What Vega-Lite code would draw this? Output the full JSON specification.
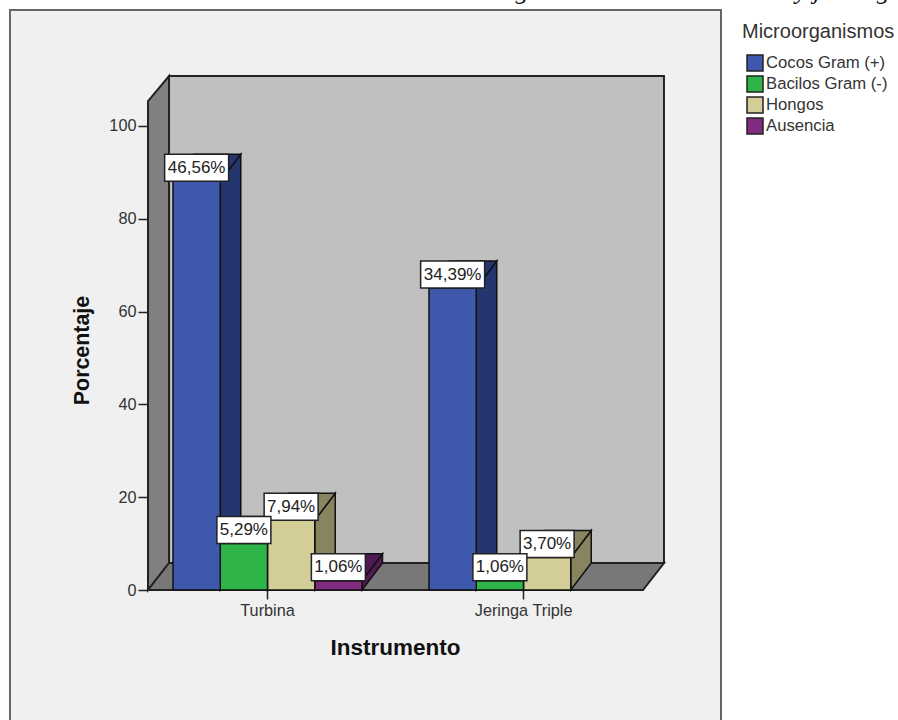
{
  "$schema": "https://vega.github.io/schema/vega-lite/v6.json",
  "autosize": "none",
  "padding": {"left": 10, "top": 10, "right": 177, "bottom": 0},
  "width": 711,
  "height": 712,
  "background": "white",
  "view": {"fill": "#f0f0f0", "stroke": "#666666", "strokeWidth": 2},
  "data": {"name": "tabla", "values": [
    {"instrumento": "Turbina", "microorganismo": "Ausencia", "porcentaje": 1.06},
    {"instrumento": "Turbina", "microorganismo": "Hongos", "porcentaje": 7.94},
    {"instrumento": "Turbina", "microorganismo": "Bacilos Gram (-)", "porcentaje": 5.29},
    {"instrumento": "Turbina", "microorganismo": "Cocos Gram (+)", "porcentaje": 46.56},
    {"instrumento": "Jeringa Triple", "microorganismo": "Hongos", "porcentaje": 3.70},
    {"instrumento": "Jeringa Triple", "microorganismo": "Bacilos Gram (-)", "porcentaje": 1.06},
    {"instrumento": "Jeringa Triple", "microorganismo": "Cocos Gram (+)", "porcentaje": 34.39}
  ]},
  "transform": [
    {"calculate": "indexof(['Turbina','Jeringa Triple'],datum.instrumento)*5.418+indexof(['Cocos Gram (+)','Bacilos Gram (-)','Hongos','Ausencia'],datum.microorganismo)", "as": "izq"},
    {"calculate": "datum.izq+1", "as": "der"},
    {"calculate": "[0,1]", "as": "borde"},
    {"flatten": ["borde"]}
  ],
  "encoding": {
    "x": {
      "field": "x", "type": "quantitative", "title": "Instrumento",
      "scale": {"domain": [-3.45, 11.598], "nice": false, "zero": false},
      "axis": {
        "orient": "bottom", "offset": -132, "domain": false, "grid": false,
        "values": [1.99, 7.41], "labelExpr": "datum.value<4?'Turbina':'Jeringa Triple'",
        "tickSize": 9, "tickColor": "#222222", "tickWidth": 1.5, "labelPadding": 3,
        "labelFont": "Liberation Sans", "labelFontSize": 16.3, "labelColor": "#333333",
        "titleFont": "Liberation Sans", "titleFontSize": 22.5, "titleFontWeight": "bold", "titleColor": "#111111",
        "titleX": 385, "titleY": 57, "titleBaseline": "middle", "titleAlign": "center"
      }
    },
    "y": {
      "field": "y", "type": "quantitative", "title": "Porcentaje",
      "scale": {"domain": [-15.034, 66.06], "nice": false, "zero": false},
      "axis": {
        "orient": "left", "offset": -138, "domain": false, "grid": false,
        "values": [0, 10.57, 21.14, 31.71, 42.28, 52.85],
        "labelExpr": "format(datum.value*1.892,'.0f')",
        "tickSize": 10, "tickColor": "#222222", "tickWidth": 1.5, "labelPadding": 2,
        "labelFont": "Liberation Sans", "labelFontSize": 16.3, "labelColor": "#333333",
        "titleFont": "Liberation Sans", "titleFontSize": 21.4, "titleFontWeight": "bold", "titleColor": "#111111",
        "titleX": -66, "titleY": 340, "titleBaseline": "middle", "titleAlign": "center", "titleAngle": -90
      }
    }
  },
  "resolve": {"scale": {"fill": "independent"}},
  "layer": [
    {
      "description": "Back wall of the 3D box",
      "data": {"values": [{"x": -0.085, "x2": 10.391, "y": 58.54, "y2": 3.075}]},
      "mark": {"type": "rect", "fill": "#c0c0c0", "stroke": "#222222", "strokeWidth": 2},
      "encoding": {"x2": {"field": "x2"}, "y2": {"field": "y2"}}
    },
    {
      "description": "Left wall",
      "data": {"values": [{"borde": 0}, {"borde": 1}]},
      "transform": [
        {"calculate": "-0.529+datum.borde*0.445", "as": "x"},
        {"calculate": "55.69+datum.borde*2.85", "as": "y"},
        {"calculate": "datum.borde*3.075", "as": "y2"}
      ],
      "mark": {"type": "area", "fill": "#808080", "stroke": "#222222", "strokeWidth": 2},
      "encoding": {"y2": {"field": "y2"}}
    },
    {
      "description": "Floor",
      "data": {"values": [{"borde": 0}, {"borde": 1}]},
      "transform": [
        {"calculate": "-0.529+datum.borde*0.445", "as": "x"},
        {"calculate": "9.947+datum.borde*0.445", "as": "x2"},
        {"calculate": "datum.borde*3.075", "as": "y"}
      ],
      "mark": {"type": "area", "orient": "horizontal", "fill": "#787878", "stroke": "#222222", "strokeWidth": 2},
      "encoding": {"x2": {"field": "x2"}}
    },
    {
      "description": "Right side of each bar",
      "transform": [
        {"calculate": "datum.der+datum.borde*0.434", "as": "x"},
        {"calculate": "datum.porcentaje+datum.borde*3.075", "as": "y"},
        {"calculate": "datum.borde*3.075", "as": "y2"}
      ],
      "mark": {"type": "area", "stroke": "#111111", "strokeWidth": 1.5},
      "encoding": {
        "y2": {"field": "y2"},
        "detail": {"field": "instrumento"},
        "fill": {"field": "microorganismo", "legend": null, "scale": {
          "domain": ["Cocos Gram (+)", "Bacilos Gram (-)", "Hongos", "Ausencia"],
          "range": ["#25366f", "#1f7a33", "#87845f", "#511a52"]}}
      }
    },
    {
      "description": "Top of each bar",
      "transform": [
        {"calculate": "datum.izq+datum.borde*0.434", "as": "x"},
        {"calculate": "datum.der+datum.borde*0.434", "as": "x2"},
        {"calculate": "datum.porcentaje+datum.borde*3.075", "as": "y"}
      ],
      "mark": {"type": "area", "orient": "horizontal", "stroke": "#111111", "strokeWidth": 1.5},
      "encoding": {
        "x2": {"field": "x2"},
        "detail": {"field": "instrumento"},
        "fill": {"field": "microorganismo", "legend": null, "scale": {
          "domain": ["Cocos Gram (+)", "Bacilos Gram (-)", "Hongos", "Ausencia"],
          "range": ["#25366f", "#1f7a33", "#87845f", "#511a52"]}}
      }
    },
    {
      "description": "Front of each bar, which also carries the legend",
      "transform": [
        {"filter": "datum.borde==0"},
        {"calculate": "datum.izq", "as": "x"},
        {"calculate": "datum.der", "as": "x2"},
        {"calculate": "datum.porcentaje", "as": "y"},
        {"calculate": "0", "as": "y2"}
      ],
      "mark": {"type": "rect", "stroke": "#111111", "strokeWidth": 1.5},
      "encoding": {
        "x2": {"field": "x2"},
        "y2": {"field": "y2"},
        "fill": {
          "field": "microorganismo",
          "scale": {
            "domain": ["Cocos Gram (+)", "Bacilos Gram (-)", "Hongos", "Ausencia"],
            "range": ["#3e58ac", "#2fb44a", "#d3ce97", "#802a80"]},
          "legend": {
            "orient": "none", "legendX": 732, "legendY": 12,
            "title": "Microorganismos", "titleFont": "Liberation Sans", "titleFontSize": 20,
            "titleFontWeight": "normal", "titleColor": "#333333", "titlePadding": 12,
            "symbolType": "square", "symbolSize": 256, "symbolOffset": 4,
            "symbolStrokeColor": "#222222", "symbolStrokeWidth": 1.5, "symbolOpacity": 1,
            "labelFont": "Liberation Sans", "labelFontSize": 16.7, "labelColor": "#333333",
            "labelOffset": 2, "rowPadding": -1, "values": ["Cocos Gram (+)", "Bacilos Gram (-)", "Hongos", "Ausencia"]
          }
        }
      }
    },
    {
      "description": "White box behind each value label",
      "transform": [
        {"filter": "datum.borde==0"},
        {"calculate": "replace(format(datum.porcentaje,'.2f'),'.',',')+'%'", "as": "etiqueta"},
        {"calculate": "(length(datum.etiqueta)*5+2)/47.25", "as": "medio"},
        {"calculate": "datum.izq+0.5-datum.medio", "as": "x"},
        {"calculate": "datum.izq+0.5+datum.medio", "as": "x2"},
        {"calculate": "datum.porcentaje", "as": "y"},
        {"calculate": "datum.porcentaje+3.075", "as": "y2"}
      ],
      "mark": {"type": "rect", "fill": "white", "stroke": "#222222", "strokeWidth": 1.5},
      "encoding": {"x2": {"field": "x2"}, "y2": {"field": "y2"}}
    },
    {
      "description": "Value labels, stating the same value each bar is drawn from",
      "transform": [
        {"filter": "datum.borde==0"},
        {"calculate": "replace(format(datum.porcentaje,'.2f'),'.',',')+'%'", "as": "etiqueta"},
        {"calculate": "datum.izq+0.5", "as": "x"},
        {"calculate": "datum.porcentaje+1.54", "as": "y"}
      ],
      "mark": {"type": "text", "font": "Liberation Sans", "fontSize": 17, "color": "#222222", "baseline": "middle", "align": "center"},
      "encoding": {"text": {"field": "etiqueta"}}
    },
    {
      "description": "Line of body text above the panel, cut off at the page edge",
      "data": {"values": [{"texto": "g", "x": 7.386, "y": 67.3}, {"texto": "y j", "x": 13.44, "y": 67.3}, {"texto": "g", "x": 15.03, "y": 67.3}]},
      "mark": {"type": "text", "font": "Liberation Serif", "fontSize": 26, "fontStyle": "italic", "color": "#111111", "baseline": "alphabetic", "align": "center", "clip": false},
      "encoding": {"text": {"field": "texto"}}
    }
  ]
}
